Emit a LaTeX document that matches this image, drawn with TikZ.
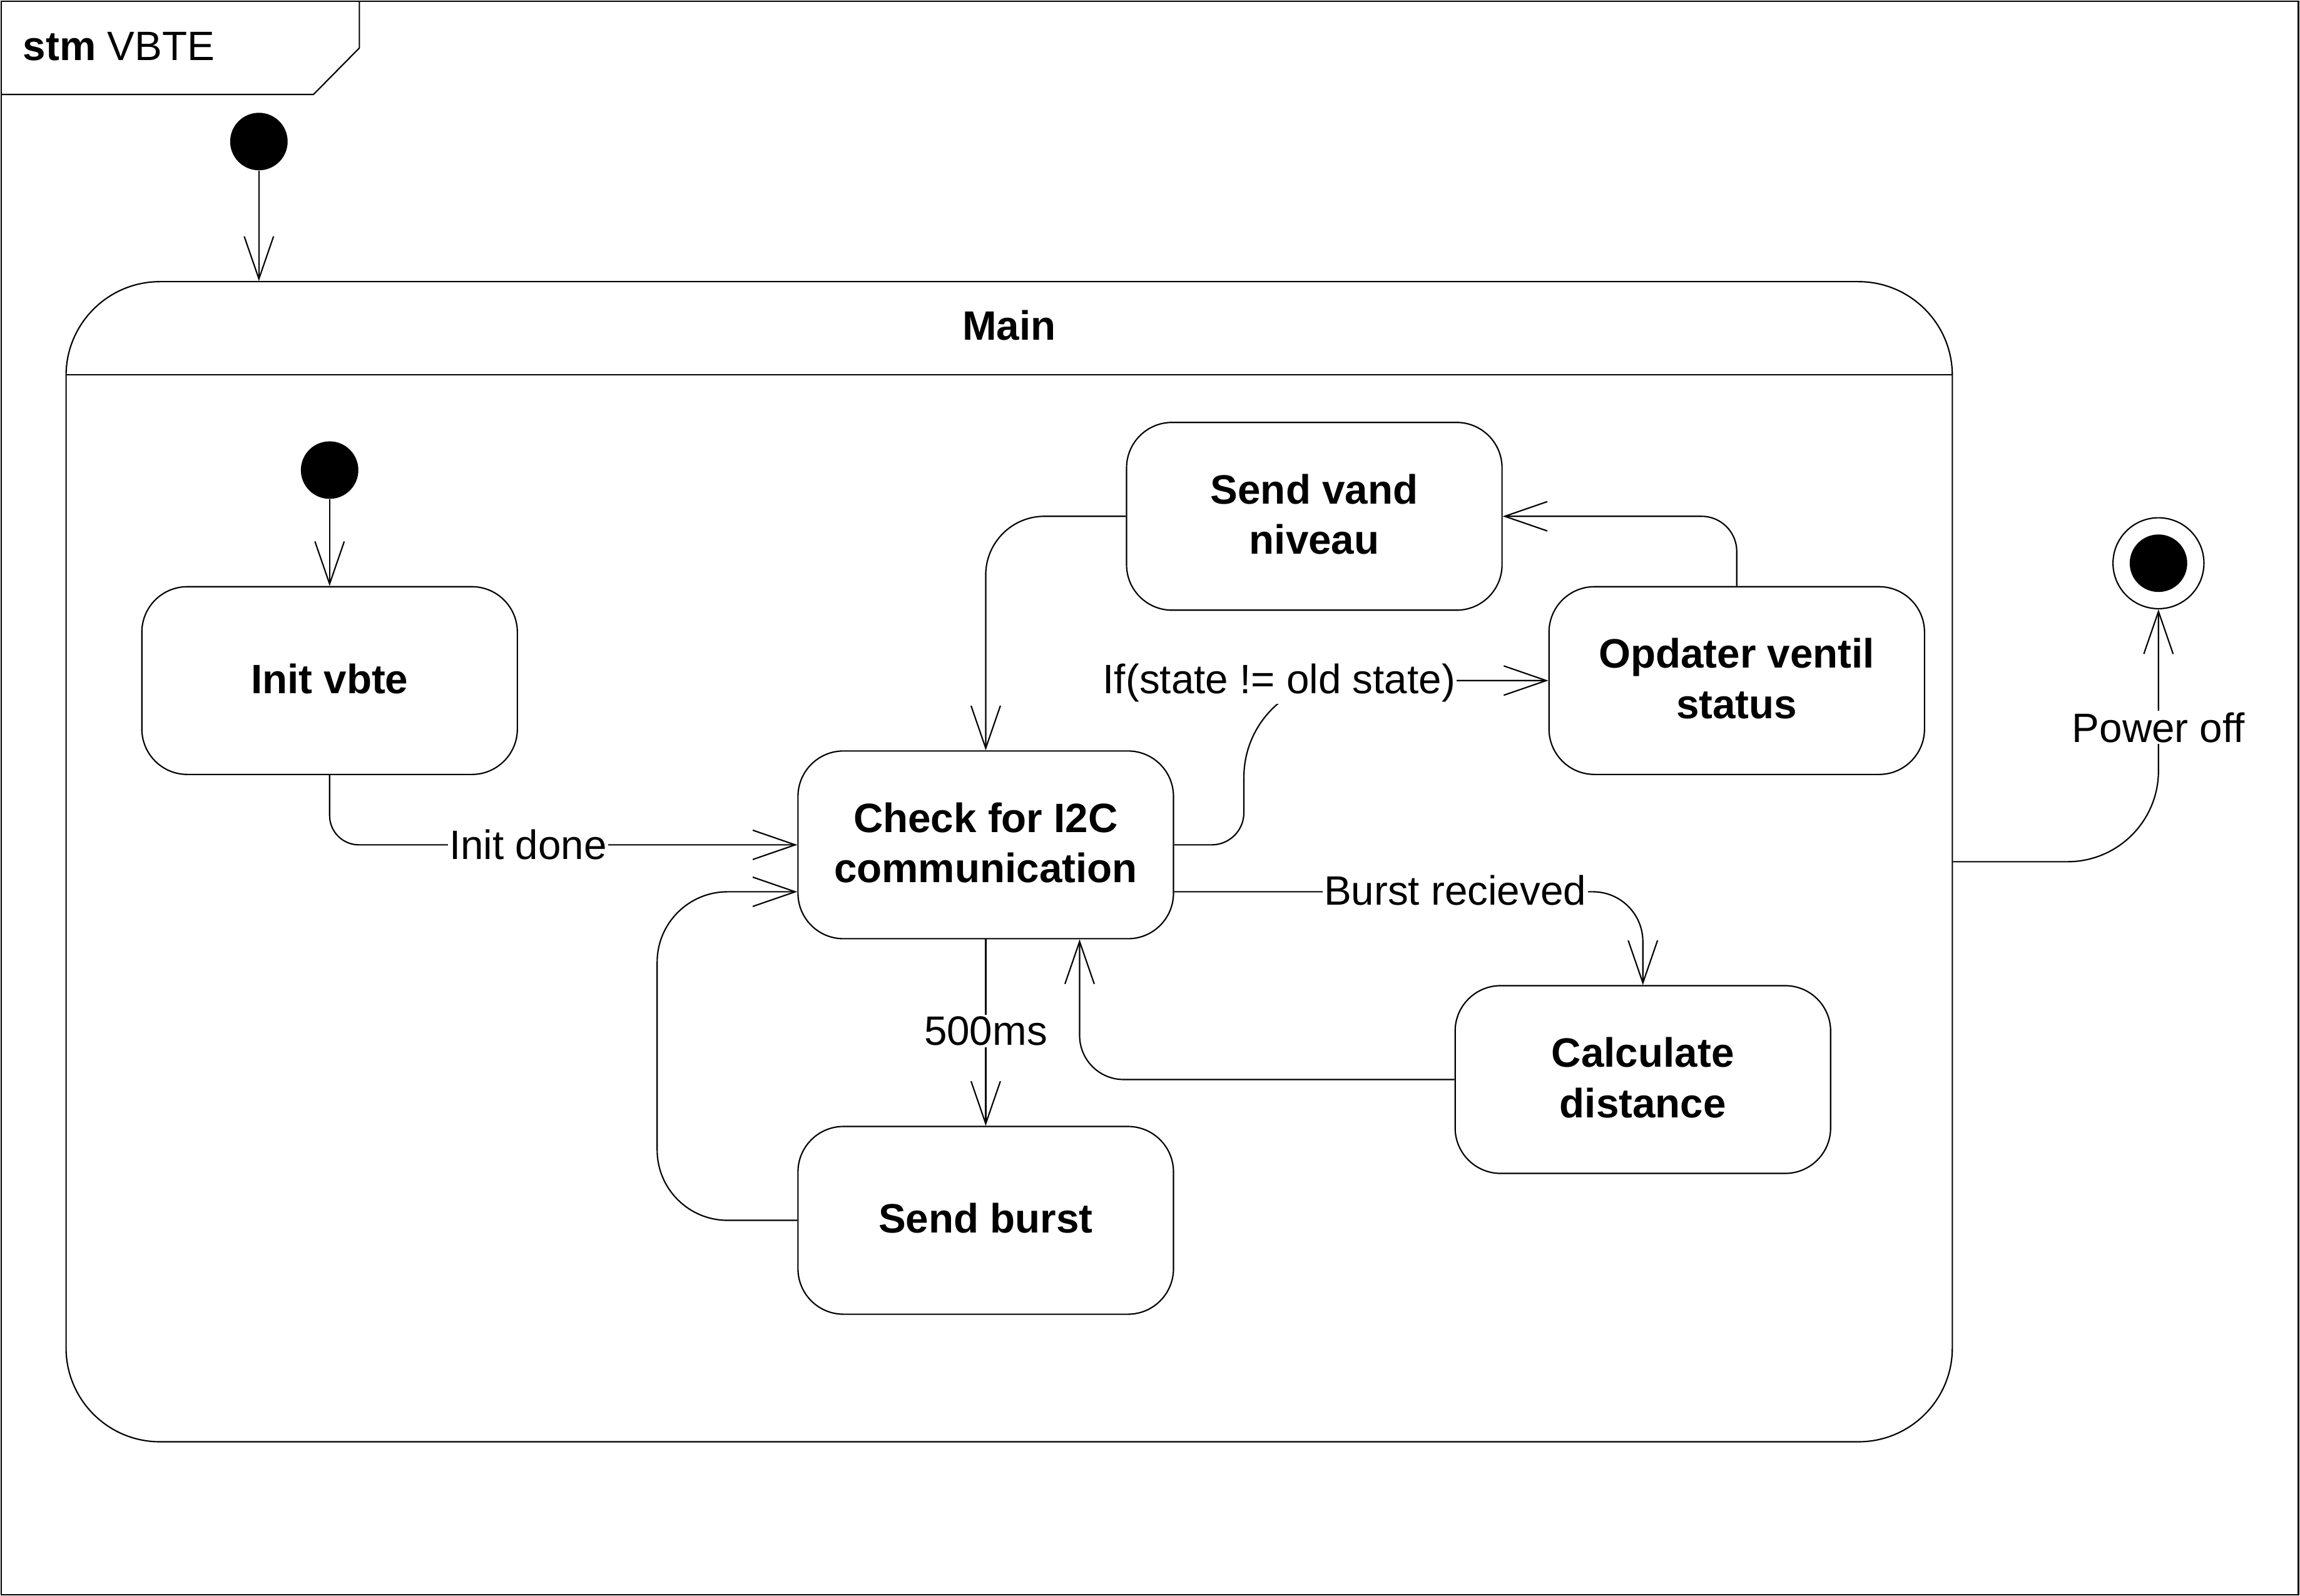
\documentclass[tikz,border=0pt]{standalone}
\usepackage{fontspec}
\setmainfont{Liberation Sans}
\usetikzlibrary{arrows.meta,calc}
\begin{document}
\begin{tikzpicture}[x=0.05cm,y=-0.05cm, line width=1.3pt,
  every node/.style={font=\fontsize{39.8pt}{49pt}\selectfont},
  stbox/.style={draw, rounded corners=1.55cm, minimum width=12.8cm, minimum height=6.4cm, inner sep=0pt, align=center, text depth=0.15cm, font=\fontsize{39.8pt}{49pt}\selectfont\bfseries},
  tr/.style={-{Straight Barb[length=1.45cm,width=1.0cm]}},
  lbl/.style={fill=white, inner sep=1.5pt},
  ini/.style={circle, fill=black, draw=none, minimum size=1.96cm, inner sep=0pt}]

\useasboundingbox (0,0) rectangle (1568,1088.1);

% frame and tab
\draw (0.7,0.7) rectangle (1566.9,1087.2);
\draw (0.7,64.4) -- (213.7,64.4) -- (245,32.7) -- (245,0.7);
\node[anchor=base west, inner sep=0pt] (title) at (15.3,41) {\textbf{stm} VBTE};

% composite state Main
\node[draw, rounded corners=3.2cm, minimum width=64.3cm, minimum height=39.55cm, inner sep=0pt] (main) at (688,587.5) {};
\coordinate (hl) at ($(main.north west)+(0,64)$);
\coordinate (hr) at ($(main.north east)+(0,64)$);
\draw (hl) -- (hr);
\node (maint) at (688,222) {\textbf{Main}};

% states
\node[ini] (i1) at (176.5,96.5) {};
\node[ini] (i2) at (224.7,320.5) {};
\node[stbox] (init) at (224.7,464) {Init vbte};
\node[stbox] (check) at (672,576) {Check for I2C\\communication};
\node[stbox] (vand) at (896,352) {Send vand\\niveau};
\node[stbox] (opd) at (1184,464) {Opdater ventil\\status};
\node[stbox] (calc) at (1120,736) {Calculate\\distance};
\node[stbox] (burst) at (672,832) {Send burst};
\node[circle, draw, minimum size=3.1cm, inner sep=0pt] (fin) at (1471.5,384) {};
\node[ini] (fini) at (fin.center) {};

% transitions
\draw[tr] (i1) -- (i1 |- main.north);
\draw[tr] (i2) -- (init.north);
\draw[tr, rounded corners=1cm] (init.south) |- (check.west);
\draw[tr, rounded corners=2.4cm] (burst.west) -- (448,832) -- (448,608) -- ($(check.west)+(0,32)$);
\draw[tr] (check.south) -- (burst.north);
\draw[tr, rounded corners=1.5cm] (calc.west) -| ($(check.south)+(64,0)$);
\draw[tr, rounded corners=1.7cm] ($(check.east)+(0,32)$) -| (calc.north);
\draw[tr] (check.east) -- (826,576) .. controls (838.2,576) and (848,566.2) .. (848,554) -- (848,530) .. controls (848,493.5) and (877.5,464) .. (914,464) -- (opd.west);
\draw[tr, rounded corners=1.2cm] (opd.north) |- (vand.east);
\draw[tr, rounded corners=2cm] (vand.west) -| (check.north);
\draw[tr, rounded corners=3.1cm] (main.east) -| (fin.south);

% labels
\node[lbl] (l1) at (360,576) {Init done};
\node[lbl] (l2) at (672,703) {500ms};
\node[lbl] (l3) at (992,607) {Burst recieved};
\node[lbl, anchor=base] (l4) at (872,473) {If(state != old state)};
\node[lbl] (l5) at (1471.5,496) {Power off};
\end{tikzpicture}
\end{document}
